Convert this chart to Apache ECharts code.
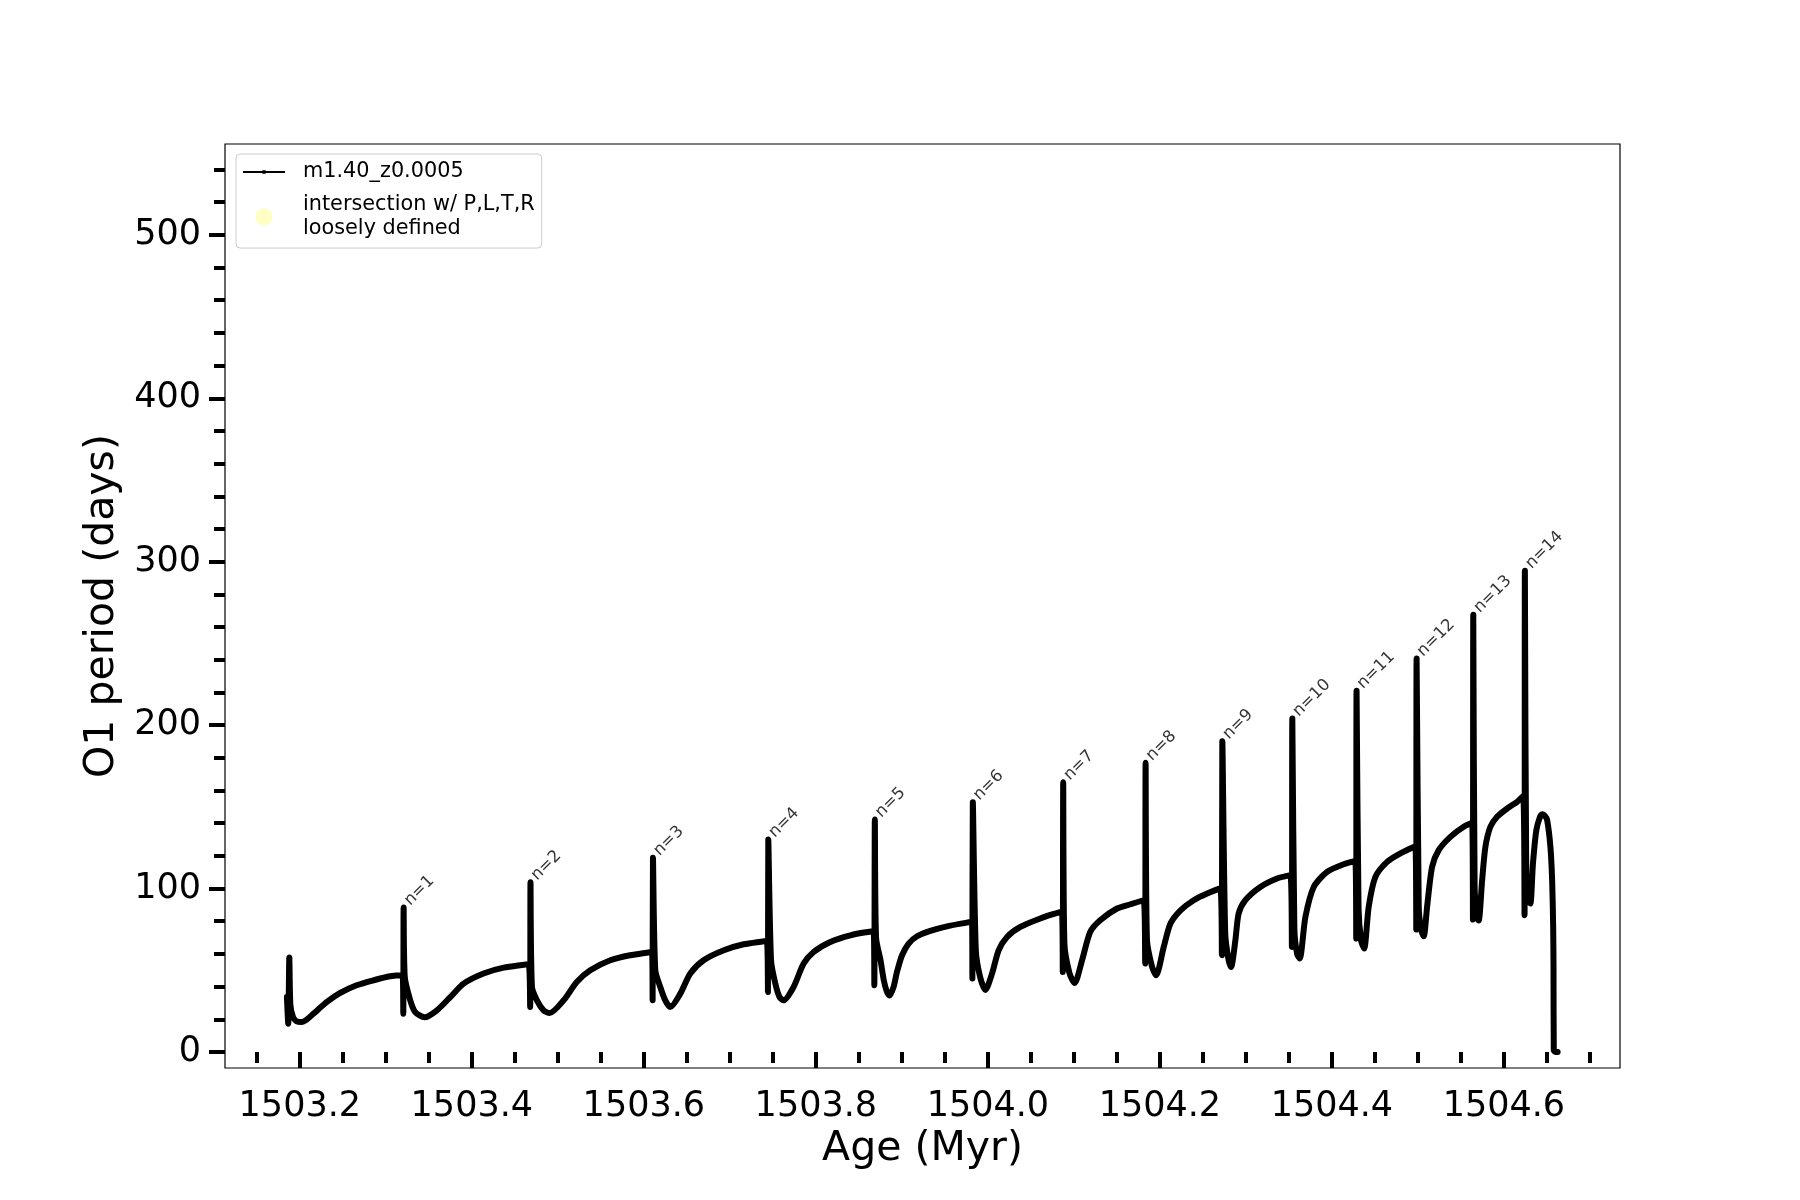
<!DOCTYPE html>
<html><head><meta charset="utf-8">
<script src="https://cdn.jsdelivr.net/npm/echarts@6/dist/echarts.min.js"></script>
<style>html,body{margin:0;padding:0;background:#fff}#c{width:1800px;height:1200px}</style>
</head><body><div id="c"></div>
<script>
// ---- data ----
const ages = [
1503.1850, 1503.1865, 1503.1878, 1503.1890, 1503.1920, 1503.1960, 1503.2020, 1503.2080, 1503.2160, 1503.2315, 1503.2470, 1503.2660, 1503.2860, 1503.3050, 1503.3195,
1503.3203, 1503.3207, 1503.3220, 1503.3284, 1503.3342, 1503.3450, 1503.3594, 1503.3750, 1503.3904, 1503.4136, 1503.4370, 1503.4660,
1503.4678, 1503.4682, 1503.4699, 1503.4757, 1503.4834, 1503.4904, 1503.5067, 1503.5220, 1503.5377, 1503.5610, 1503.5840, 1503.6095,
1503.6102, 1503.6106, 1503.6133, 1503.6191, 1503.6249, 1503.6307, 1503.6424, 1503.6540, 1503.6695, 1503.6930, 1503.7160, 1503.7430,
1503.7443, 1503.7447, 1503.7479, 1503.7529, 1503.7578, 1503.7625, 1503.7741, 1503.7858, 1503.7974, 1503.8168, 1503.8401, 1503.8672,
1503.8680, 1503.8686, 1503.8700, 1503.8752, 1503.8790, 1503.8827, 1503.8858, 1503.8904, 1503.8943, 1503.9002, 1503.9079, 1503.9177, 1503.9331, 1503.9525, 1503.9796, 1503.9816,
1503.9820, 1503.9825, 1503.9860, 1503.9910, 1503.9971, 1504.0049, 1504.0125, 1504.0223, 1504.0378, 1504.0610, 1504.0861,
1504.0871, 1504.0876, 1504.0890, 1504.0950, 1504.1009, 1504.1095, 1504.1190, 1504.1306, 1504.1502, 1504.1657, 1504.1812,
1504.1829, 1504.1834, 1504.1850, 1504.1910, 1504.1956, 1504.2045, 1504.2123, 1504.2240, 1504.2393, 1504.2550, 1504.2703,
1504.2721, 1504.2726, 1504.2760, 1504.2800, 1504.2828, 1504.2878, 1504.2916, 1504.2994, 1504.3168, 1504.3363, 1504.3518,
1504.3535, 1504.3540, 1504.3564, 1504.3596, 1504.3626, 1504.3692, 1504.3789, 1504.3944, 1504.4137, 1504.4273,
1504.4283, 1504.4287, 1504.4310, 1504.4340, 1504.4375, 1504.4428, 1504.4506, 1504.4642, 1504.4797, 1504.4971,
1504.4981, 1504.4985, 1504.5010, 1504.5037, 1504.5068, 1504.5107, 1504.5165, 1504.5242, 1504.5378, 1504.5533, 1504.5631,
1504.5640, 1504.5644, 1504.5660, 1504.5690, 1504.5707, 1504.5747, 1504.5785, 1504.5843, 1504.5921, 1504.6038, 1504.6154, 1504.6224,
1504.6240, 1504.6244, 1504.6260, 1504.6290, 1504.6308, 1504.6338, 1504.6377, 1504.6420, 1504.6444, 1504.6475, 1504.6503, 1504.6541, 1504.6561, 1504.6573, 1504.6577, 1504.6580, 1504.6600, 1504.6625
];
const periods = [
33.6, 17.3, 57.8, 29.0, 21.5, 18.8, 18.3, 19.8, 23.5, 30.6, 36.1, 40.8, 43.9, 46.3, 46.9,
23.4, 88.4, 46.0, 31.6, 24.4, 21.2, 25.5, 33.6, 41.8, 48.0, 51.6, 53.7,
27.5, 103.8, 39.8, 31.6, 25.5, 23.8, 31.6, 42.8, 50.0, 56.1, 59.2, 61.2,
31.6, 118.8, 50.0, 39.8, 31.6, 27.5, 35.7, 48.0, 56.1, 62.2, 65.9, 67.9,
36.7, 130.0, 56.1, 41.8, 33.6, 31.6, 39.8, 54.1, 61.2, 67.3, 71.4, 74.1,
40.8, 142.3, 70.0, 56.1, 43.9, 36.7, 34.5, 39.8, 48.9, 59.2, 66.3, 70.8, 74.1, 76.9, 79.6, 80.0,
44.9, 152.8, 62.2, 45.9, 38.0, 48.0, 62.2, 70.4, 76.5, 81.7, 86.0,
48.9, 165.0, 66.3, 48.0, 42.2, 56.1, 73.4, 80.6, 87.8, 90.4, 92.9,
54.1, 177.0, 68.4, 52.0, 46.9, 64.3, 78.6, 86.7, 92.9, 97.0, 100.0,
59.2, 190.2, 72.5, 56.0, 52.0, 68.4, 84.7, 92.9, 101.0, 106.2, 108.2,
64.3, 204.0, 75.0, 60.0, 57.2, 82.6, 101.0, 110.2, 114.9, 116.9,
69.4, 221.0, 88.0, 68.0, 63.3, 88.8, 107.1, 116.3, 121.5, 125.9,
74.9, 240.8, 88.8, 75.0, 70.8, 88.8, 113.3, 123.5, 131.6, 137.8, 140.2,
81.0, 267.5, 100.0, 82.0, 80.4, 105.1, 125.5, 137.8, 143.9, 149.0, 153.1, 156.6,
83.7, 294.5, 110.0, 92.0, 90.8, 115.3, 135.7, 144.0, 145.4, 144.5, 141.9, 125.5, 105.1, 76.5, 52.0, 1.0, 0.0, 0.0
];
const pulseNames = ['n=1','n=2','n=3','n=4','n=5','n=6','n=7','n=8','n=9','n=10','n=11','n=12','n=13','n=14'];
const pulseAges = [1503.3207, 1503.4682, 1503.6106, 1503.7447, 1503.8686, 1503.9825, 1504.0876, 1504.1834, 1504.2726, 1504.3540, 1504.4287, 1504.4985, 1504.5644, 1504.6244];
const pulsePeriods = [88.4, 103.8, 118.8, 130.0, 142.3, 152.8, 165.0, 177.0, 190.2, 204.0, 221.0, 240.8, 267.5, 294.5];

const xMajorTicks = [1503.2, 1503.4, 1503.6, 1503.8, 1504.0, 1504.2, 1504.4, 1504.6];
const xMinorTicks = [1503.15, 1503.25, 1503.3, 1503.35, 1503.45, 1503.5, 1503.55, 1503.65, 1503.7, 1503.75, 1503.85, 1503.9, 1503.95, 1504.05, 1504.1, 1504.15, 1504.25, 1504.3, 1504.35, 1504.45, 1504.5, 1504.55, 1504.65, 1504.7];
const yMajorTicks = [0, 100, 200, 300, 400, 500];
const yMinorTicks = [20, 40, 60, 80, 120, 140, 160, 180, 220, 240, 260, 280, 320, 340, 360, 380, 420, 440, 460, 480, 520, 540];

const seriesName = 'm1.40_z0.0005';
const intersectionName = 'intersection w/ P,L,T,R\nloosely defined';

// ---- chart ----
const X_MIN = 1503.113, X_MAX = 1504.735, Y_MIN = -9.8, Y_MAX = 555.6;
const chart = echarts.init(document.getElementById('c'), null, {renderer: 'canvas'});
const tickStyle = {color: '#000', width: 4};
const lineIcon = 'path://M0,0L0.01,0L0,0.01Z M42,17L41.99,17L42,16.99Z M0,7.6L42,7.6L42,9.4L0,9.4Z M19.3,6.8L22.7,6.8L22.7,10.2L19.3,10.2Z';

chart.setOption({
  animation: false,
  backgroundColor: '#fff',
  textStyle: {fontFamily: 'DejaVu Sans'},
  grid: {left: 225, right: 180, top: 144, bottom: 132, show: true, borderColor: '#000', borderWidth: 1.2},
  xAxis: [
    {type: 'value', min: X_MIN, max: X_MAX, position: 'bottom',
     name: 'Age (Myr)', nameLocation: 'middle', nameGap: 57,
     nameTextStyle: {fontSize: 41, color: '#000', fontFamily: 'DejaVu Sans'},
     axisLine: {show: false}, splitLine: {show: false},
     axisTick: {show: true, length: 16, customValues: xMajorTicks, lineStyle: tickStyle},
     axisLabel: {customValues: xMajorTicks, formatter: v => Number(v).toFixed(1), fontSize: 35, color: '#000', margin: 21, fontFamily: 'DejaVu Sans'}},
    {type: 'value', min: X_MIN, max: X_MAX, position: 'bottom',
     axisLine: {show: false}, splitLine: {show: false}, axisLabel: {show: false},
     axisTick: {show: true, length: 11, customValues: xMinorTicks, lineStyle: tickStyle}}
  ],
  yAxis: [
    {type: 'value', min: Y_MIN, max: Y_MAX, position: 'left',
     name: 'O1 period (days)', nameLocation: 'middle', nameGap: 98,
     nameTextStyle: {fontSize: 41, color: '#000', fontFamily: 'DejaVu Sans'},
     axisLine: {show: false}, splitLine: {show: false},
     axisTick: {show: true, length: 16, customValues: yMajorTicks, lineStyle: tickStyle},
     axisLabel: {customValues: yMajorTicks, formatter: v => String(Math.round(v)), fontSize: 35, color: '#000', margin: 24, fontFamily: 'DejaVu Sans'}},
    {type: 'value', min: Y_MIN, max: Y_MAX, position: 'left',
     axisLine: {show: false}, splitLine: {show: false}, axisLabel: {show: false},
     axisTick: {show: true, length: 11, customValues: yMinorTicks, lineStyle: tickStyle}}
  ],
  legend: {
    show: true, orient: 'vertical', left: 236, top: 154,
    padding: [6, 7, 7, 7], itemGap: 9, itemWidth: 42, itemHeight: 17,
    backgroundColor: '#fff', borderColor: '#cccccc', borderWidth: 1, borderRadius: 4,
    selectedMode: false,
    itemStyle: {borderWidth: 0},
    textStyle: {fontSize: 20.8, color: '#000', lineHeight: 24, padding: [0, 0, 0, 13], fontFamily: 'DejaVu Sans'},
    data: [{name: seriesName, icon: lineIcon}, {name: intersectionName, icon: 'circle'}]
  },
  series: [
    {name: seriesName, type: 'line', xAxisIndex: 0, yAxisIndex: 0,
     data: ages.map((a, i) => [a, periods[i]]),
     showSymbol: false, symbol: 'circle', sampling: null, silent: true,
     smooth: 0.25,
     lineStyle: {color: '#000', width: 6, join: 'round', cap: 'round'},
     itemStyle: {color: '#000'}, z: 3},
    {name: intersectionName, type: 'scatter', data: [], itemStyle: {color: '#ffffb4'}},
    {name: 'pulses', type: 'scatter', silent: true, symbolSize: 1,
     itemStyle: {color: 'rgba(0,0,0,0)'},
     data: pulseAges.map((a, i) => ({value: [a, pulsePeriods[i]], name: pulseNames[i]})),
     label: {show: true, formatter: p => p.name, position: [10, 2], rotate: 45, align: 'left', verticalAlign: 'bottom',
             fontSize: 16.5, color: '#000', fontFamily: 'DejaVu Sans'}, z: 4}
  ]
});
</script></body></html>
